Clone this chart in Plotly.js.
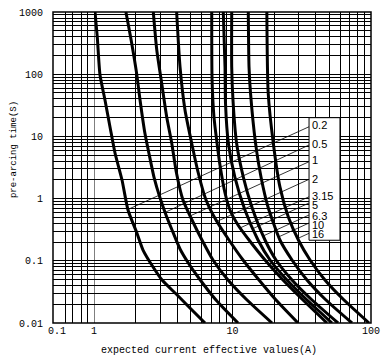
<!DOCTYPE html>
<html>
<head>
<meta charset="utf-8">
<script src="https://cdn.plot.ly/plotly-3.0.1.min.js"></script>
<style>html,body{margin:0;padding:0;background:#fff;}#chart{width:389px;height:363px;}</style>
</head>
<body>
<div id="chart"></div>
<script>
// Fuse ratings (A)
const ratings = ['0.2','0.5','1','2','3.15','5','6.3','10','16'];

// Time-current curves: expected current (A) vs pre-arcing time (s)
const current_0_2 = [1.017,1.056,1.105,1.20,1.305,1.418,1.593,1.76,2.04,2.26,2.67,3.10,3.92,4.93,6.33];
const time_0_2    = [1000,396,97,38.5,14.2,5.41,1.99,0.656,0.280,0.149,0.0795,0.0491,0.0292,0.0174,0.01];
const current_0_5 = [1.70,1.87,2.03,2.15,2.33,2.49,2.71,3.00,3.31,3.66,4.18,4.85,5.64,7.60,10.96];
const time_0_5    = [1000,318,104,38.5,11.3,5.41,2.22,1.02,0.545,0.313,0.155,0.0889,0.0549,0.0234,0.01];
const current_1   = [2.68,2.84,3.08,3.35,3.64,3.94,4.39,5.10,6.02,7.23,9.28,12.73,19.29];
const time_1      = [1000,245,72.2,20.5,7.84,2.58,0.95,0.453,0.216,0.103,0.0491,0.0234,0.01];
const current_2   = [3.95,4.18,4.54,5.07,5.66,6.44,7.60,9.43,11.91,15.54,20.61,29.72];
const time_2      = [1000,131,26.6,7.84,2.58,0.95,0.453,0.216,0.103,0.0491,0.0234,0.01];
const current_3_15= [7.08,7.12,7.35,7.73,8.12,8.83,9.59,10.96,13.16,17.17,23.15,32.28,48.1];
const time_3_15   = [1000,80.7,20.5,7.84,3.47,1.23,0.656,0.377,0.216,0.103,0.0491,0.0234,0.01];
const current_5   = [8.58,8.83,8.90,9.33,10.4,12.3,15.28,18.66,24.75,34.5,52.3];
const time_5      = [1000,131,34.4,7.84,2.22,0.656,0.216,0.103,0.0491,0.0234,0.01];
const current_6_3 = [9.87,9.87,10.08,10.7,11.97,13.8,17.17,20.61,26.9,37.5,57.8];
const time_6_3    = [1000,131,38.5,7.84,2.22,0.733,0.216,0.103,0.0491,0.0234,0.01];
const current_10  = [13.0,13.16,13.49,14.66,16.06,18.05,22.0,26.9,34.5,47.3,72.9];
const time_10     = [1000,131,49.9,7.84,2.22,0.733,0.216,0.103,0.0491,0.0234,0.01];
const current_16  = [17.7,18.1,19.7,22.0,25.3,29.9,36.3,46.5,63.8,96.8];
const time_16     = [1000,49.9,7.84,1.54,0.506,0.216,0.103,0.0491,0.0234,0.01];

// Legend box and leader lines
const boxCurrent = [35.7, 59.7];
const boxTime = [0.214, 20];
const leaderStartTime = [14.3,7.27,3.92,2.04,1.07,0.849,0.545,0.405,0.277];
const leaderEndCurrent = [1.79,3.25,4.93,7.73,11.33,14.06,16.6,21.6,29.5];
const leaderEndTime = [0.681,0.598,0.525,0.430,0.337,0.330,0.250,0.243,0.228];
const labelTime = [15.5,7.55,4.10,2.07,1.09,0.789,0.535,0.383,0.272];

// Axis ticks
const xTickVals = [1,2,3,4,5,6,7,8,9,10,20,30,40,50,60,70,80,90,100];
const xTickText = ['1','','','','','','','','','10','','','','','','','','','100'];
const x2TickVals = [0.1,0.2,0.3,0.5,0.7];
const x2TickText = ['0.1','','','',''];
const yDecades = [0.01,0.1,1,10,100,1000];
const yDecadeText = ['0.01','0.1','1','10','100','1000'];

const yTickVals = [], yTickText = [];
yDecades.forEach((d, i) => {
  yTickVals.push(d); yTickText.push(yDecadeText[i]);
  if (i < yDecades.length - 1) {
    for (let k = 2; k <= 9; k++) { yTickVals.push(d * k); yTickText.push(''); }
  }
});

const curveX = [current_0_2,current_0_5,current_1,current_2,current_3_15,current_5,current_6_3,current_10,current_16];
const curveY = [time_0_2,time_0_5,time_1,time_2,time_3_15,time_5,time_6_3,time_10,time_16];

const traces = [];
curveX.forEach((xs, i) => {
  traces.push({x: xs, y: curveY[i], mode: 'lines', xaxis: 'x', yaxis: 'y',
    line: {color: '#000', width: 3, shape: 'spline', smoothing: 0.6}, hoverinfo: 'none'});
});
ratings.forEach((r, i) => {
  traces.push({x: [boxCurrent[0], leaderEndCurrent[i]], y: [leaderStartTime[i], leaderEndTime[i]],
    mode: 'lines', xaxis: 'x', yaxis: 'y', line: {color: '#000', width: 0.8}, hoverinfo: 'none'});
});
traces.push({x: [], y: [], xaxis: 'x2', yaxis: 'y', mode: 'lines'});

const tickFont = {family: 'Liberation Mono, monospace', size: 10, color: '#000'};
const gridCommon = {showgrid: true, gridcolor: '#000', gridwidth: 1, ticks: '', showline: false, zeroline: false, tickfont: tickFont, fixedrange: true};
const d = 41 / 318;

const annotations = ratings.map((r, i) => ({
  x: Math.log10(boxCurrent[0]), y: Math.log10(labelTime[i]), xref: 'x', yref: 'y',
  text: r, showarrow: false, xanchor: 'left', yanchor: 'middle', xshift: 1,
  font: {family: 'Liberation Sans, Arial, sans-serif', size: 11, color: '#000'}
}));
annotations.push({x: 0.4906, y: -0.090, xref: 'paper', yref: 'paper', text: 'expected current effective values(A)',
  showarrow: false, xanchor: 'center', yanchor: 'middle', font: {family: 'Liberation Mono, monospace', size: 10, color: '#000'}});
annotations.push({x: -0.1226, y: 0.556, xref: 'paper', yref: 'paper', text: 'pre-arcing time(S)', textangle: -90,
  showarrow: false, xanchor: 'center', yanchor: 'middle', font: {family: 'Liberation Mono, monospace', size: 9, color: '#000'}});

const layout = {
  width: 389, height: 363,
  margin: {l: 53, r: 18, t: 12, b: 40, pad: 0},
  paper_bgcolor: '#fff', plot_bgcolor: '#fff',
  showlegend: false,
  xaxis: Object.assign({}, gridCommon, {type: 'log', domain: [d, 1], range: [0, 2], anchor: 'y',
    tickmode: 'array', tickvals: xTickVals, ticktext: xTickText}),
  xaxis2: Object.assign({}, gridCommon, {type: 'log', domain: [0, d], range: [-1, 0], anchor: 'y',
    tickmode: 'array', tickvals: x2TickVals, ticktext: x2TickText, ticklabelshift: 4}),
  yaxis: Object.assign({}, gridCommon, {type: 'log', range: [-2, 3], anchor: 'x2',
    tickmode: 'array', tickvals: yTickVals, ticktext: yTickText, ticklabelstandoff: 9}),
  shapes: [
    {type: 'rect', xref: 'paper', yref: 'paper', x0: 0, x1: 1, y0: 0, y1: 1, line: {color: '#000', width: 1.5}, layer: 'above'},
    {type: 'line', xref: 'x', yref: 'paper', x0: 1, x1: 1, y0: 0, y1: 1, line: {color: '#000', width: 1}, layer: 'below'},
    {type: 'rect', xref: 'x', yref: 'y', x0: boxCurrent[0], x1: boxCurrent[1],
      y0: boxTime[0], y1: boxTime[1], fillcolor: '#fff', line: {color: '#000', width: 1}, layer: 'above'}
  ],
  annotations: annotations
};

Plotly.newPlot('chart', traces, layout, {staticPlot: true, displayModeBar: false});
</script>
</body>
</html>
